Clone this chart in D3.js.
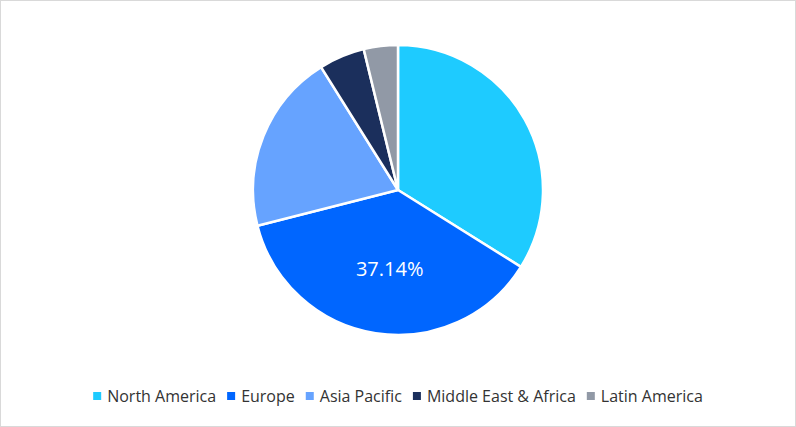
<!DOCTYPE html>
<html><head><meta charset="utf-8">
<script src="https://cdn.jsdelivr.net/npm/d3@7"></script>
<style>body{margin:0;background:#fff}svg{display:block}</style>
</head><body>
<div id="chart"></div>
<script>
// données
const regions = ["North America", "Europe", "Asia Pacific", "Middle East & Africa", "Latin America"];
const shares = [33.9, 37.14, 20.06, 5.1, 3.8];
const colors = ["#1ECBFF", "#0066FF", "#66A3FF", "#1B2F5C", "#9199A6"];
const labelled = ["Europe"];

const W = 796, H = 427;
const svg = d3.select("#chart").append("svg").attr("width", W).attr("height", H);
svg.append("rect").attr("x", 0.5).attr("y", 0.5).attr("width", W - 1).attr("height", H - 1)
  .attr("fill", "#fff").attr("stroke", "#d9d9d9");

const color = d3.scaleOrdinal().domain(regions).range(colors);
const data = regions.map((r, i) => ({ name: r, value: shares[i] }));
const pie = d3.pie().value(d => d.value).sort(null);
const R = 145;
const arc = d3.arc().innerRadius(0).outerRadius(R);
const g = svg.append("g").attr("transform", "translate(398,190)");

g.selectAll("path").data(pie(data)).enter().append("path")
  .attr("d", arc).attr("fill", d => color(d.data.name))
  .attr("stroke", "#fff").attr("stroke-width", 2.5);

const labelArc = d3.arc().innerRadius(R * 0.55).outerRadius(R * 0.55);
g.selectAll("text").data(pie(data).filter(d => labelled.includes(d.data.name))).enter().append("text")
  .attr("transform", d => `translate(${labelArc.centroid(d)})`)
  .attr("x", 4)
  .attr("text-anchor", "middle").attr("dy", "0.35em")
  .attr("fill", "#fff").style("font", "20px 'Open Sans', sans-serif")
  .text(d => d.data.value.toFixed(2) + "%");

// légende
const leg = svg.append("g").style("font", "16px 'Open Sans', sans-serif");
let x = 0;
regions.forEach(r => {
  const it = leg.append("g").attr("transform", `translate(${x},0)`);
  it.append("rect").attr("x", 0).attr("y", -4).attr("width", 8).attr("height", 8).attr("fill", color(r));
  const t = it.append("text").attr("x", 14).attr("dy", "0.35em").attr("fill", "#333").text(r);
  x += 14 + t.node().getComputedTextLength() + 11;
});
leg.attr("transform", `translate(${(W - (x - 11)) / 2},396)`);
</script>
</body></html>
